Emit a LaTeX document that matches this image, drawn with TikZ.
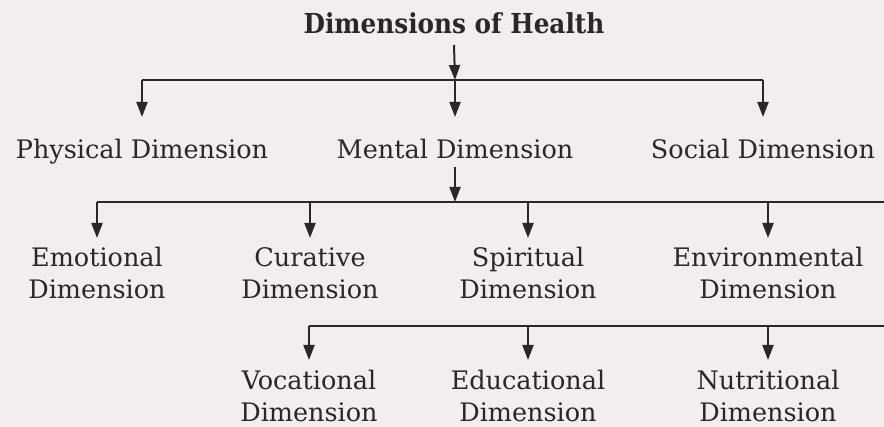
\documentclass[tikz,border=0pt]{standalone}
\usepackage{fontspec}
\setmainfont{DejaVu Serif}
\newfontfamily\titlefont{DejaVu Serif Condensed}
\usetikzlibrary{arrows.meta}
\definecolor{paper}{RGB}{244,237,240}
\definecolor{ink}{RGB}{42,38,42}
\newcommand{\twolines}[2]{\begin{tabular}[t]{@{}c@{}}#1\\#2\end{tabular}}
\begin{document}
\begin{tikzpicture}[x=1pt,y=-1pt,
  lbl/.style={text=ink,inner sep=0pt,anchor=base,font=\fontsize{25.5}{32}\selectfont},
  ttl/.style={lbl,font=\titlefont\bfseries\fontsize{27.5}{32}\selectfont},
  conn/.style={draw=ink,line width=2pt},
  arr/.style={conn,-{Triangle[length=15pt,width=11pt]}}]
\fill[paper] (0,0) rectangle (884,427);
\useasboundingbox (0,0) rectangle (884,427);
% nodes
\node[ttl] (root) at (454,34) {Dimensions of Health};
\node[lbl] (phys) at (142,159) {Physical Dimension};
\node[lbl] (ment) at (455,159) {Mental Dimension};
\node[lbl] (soc) at (763,159) {Social Dimension};
\node[lbl] (emo) at (97,267) {\twolines{Emotional}{Dimension}};
\node[lbl] (cur) at (310,267) {\twolines{Curative}{Dimension}};
\node[lbl] (spi) at (528,267) {\twolines{Spiritual}{Dimension}};
\node[lbl] (env) at (768,267) {\twolines{Environmental}{Dimension}};
\node[lbl] (voc) at (309,390) {\twolines{Vocational}{Dimension}};
\node[lbl] (edu) at (528,390) {\twolines{Educational}{Dimension}};
\node[lbl] (nut) at (768,390) {\twolines{Nutritional}{Dimension}};
% junction coordinates
\coordinate (j1) at (455,80);
\coordinate (j1l) at (142,80);
\coordinate (j1r) at (763,80);
\coordinate (j2) at (455,202);
\coordinate (j2l) at (97,202);
\coordinate (j2r) at (884,202);
\coordinate (j3l) at (309,326);
\coordinate (j3r) at (884,326);
% level 1
\draw[arr] ([yshift=-11pt]root.base) -- (j1);
\draw[conn] (j1l) -- (j1r);
\draw[arr] (j1l) -- ([yshift=42pt]phys.base);
\draw[arr] (j1) -- ([yshift=42pt]ment.base);
\draw[arr] (j1r) -- ([yshift=42pt]soc.base);
% level 2
\draw[arr] ([yshift=-8pt]ment.base) -- (j2);
\draw[conn] (j2l) -- (j2r);
\draw[arr] (j2l) -- ([yshift=29pt]emo.base);
\draw[arr] (j2l -| cur) -- ([yshift=29pt]cur.base);
\draw[arr] (j2l -| spi) -- ([yshift=29pt]spi.base);
\draw[arr] (j2l -| env) -- ([yshift=29pt]env.base);
% level 3
\draw[conn] (j3l) -- (j3r);
\draw[arr] (j3l) -- ([yshift=30pt]voc.base);
\draw[arr] (j3l -| edu) -- ([yshift=30pt]edu.base);
\draw[arr] (j3l -| nut) -- ([yshift=30pt]nut.base);
\end{tikzpicture}
\end{document}
